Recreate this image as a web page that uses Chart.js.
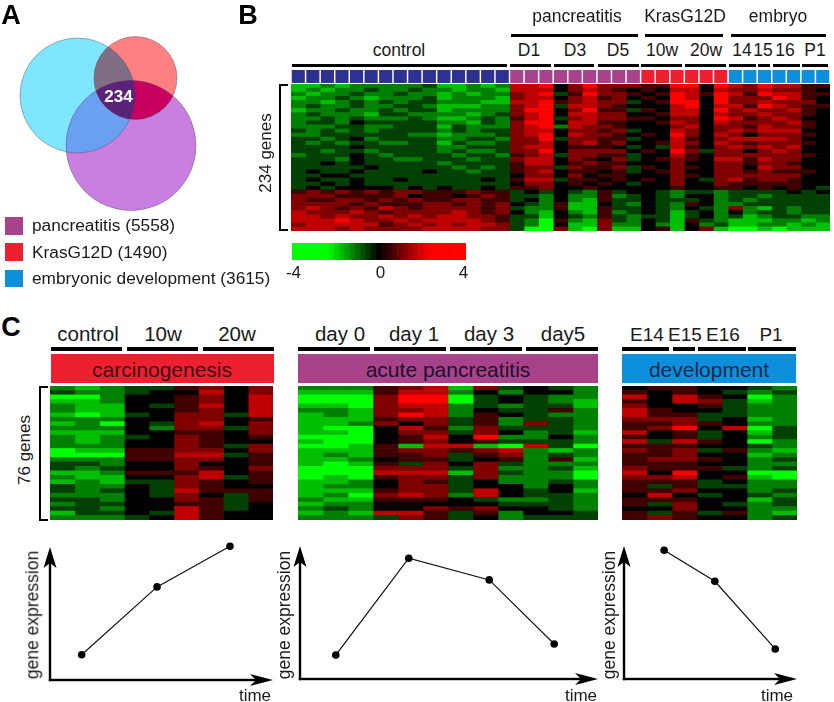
<!DOCTYPE html>
<html>
<head>
<meta charset="utf-8">
<title>Gene expression figure</title>
<script src="https://cdn.jsdelivr.net/npm/chart.js@4"></script>
<style>
  html, body { margin: 0; background: #fff; }
  #page { position: relative; width: 834px; height: 702px; overflow: hidden; font-family: "Liberation Sans", sans-serif; color: #1a1a1a; }
  #page canvas { position: absolute; }
  .txt { position: absolute; white-space: nowrap; line-height: 1; }
  .rule { position: absolute; background: #000; }
  .bracket { position: absolute; box-sizing: border-box; border: 2px solid #000; border-right: 0; }
  .band { position: absolute; }
</style>
</head>
<body>
<div id="page"></div>
<script>
// venn circles: pancreatitis, KrasG12D, embryonic development
const vennX = [131, 135.5, 77.5];
const vennY = [145.5, 78, 95.5];
const vennR = [65, 41.5, 57.5];
const vennColors = ['#c87fe0', '#ff8080', '#80e5ff'];
// overlap tints, by the circles that make them
const vennOverlaps = [[[1, 2], '#7f6f85'], [[0, 2], '#6aa0f0'], [[0, 1], '#c8005f'], [[0, 1, 2], '#5a2278']];
const legendNames = ['pancreatitis (5558)', 'KrasG12D (1490)', 'embryonic development (3615)'];

const PURPLE = '#a8428a', RED = '#ee2030', BLUE = '#0e8fdb', NAVY = '#2e3192';

// panel B samples per group
const sampleGroupSizes = [15, 9, 6, 7];
const sampleGroupColors = [NAVY, PURPLE, RED, BLUE];
const colorbarSteps = [-4, -3.75, -3.5, -3.25, -3, -2.75, -2.5, -2.25, -2, -1.75, -1.5, -1.25, -1, -0.75, -0.5, -0.25, 0,
  0.25, 0.5, 0.75, 1, 1.25, 1.5, 1.75, 2, 2.25, 2.5, 2.75, 3, 3.25, 3.5, 3.75, 4];

// heat maps, one string per row band, one digit per sample
// 4 is zero, each step is 0.6, so 0 is -2.4 (full green) and 8 is +2.4 (full red)
const heatB = [
  '11212 22223 11212 778 468 666 558 848 7687755',
  '12122 32232 21221 777 467 654 547 747 6676654',
  '21223 22322 12122 678 358 665 458 758 7587755',
  '12232 12223 12221 677 467 564 548 748 6668754',
  '22123 23233 22211 778 567 663 458 848 6676664',
  '23223 22332 11122 678 377 654 447 847 7587655',
  '12232 23233 12222 688 468 553 547 748 6766754',
  '23222 13322 22123 678 477 664 457 747 6676654',
  '22323 22232 11232 578 367 665 546 648 7567644',
  '23324 33333 22132 688 477 554 457 647 6666754',
  '22233 22333 13222 678 276 654 446 746 6576654',
  '32323 23333 23233 677 466 563 447 646 7677744',
  '22333 33322 12223 678 476 654 548 647 6466654',
  '33234 23333 22332 668 366 553 447 546 7777644',
  '32323 32233 13223 667 467 564 457 647 6566654',
  '33334 33333 22333 677 455 543 437 546 7676744',
  '33233 23333 23223 668 466 664 548 636 6467644',
  '23334 32333 32332 567 366 553 447 546 6666654',
  '33324 33223 33233 677 465 463 456 547 7576644',
  '33434 33333 23333 577 456 554 446 446 6566544',
  '33333 43333 32323 566 365 563 546 546 6476644',
  '34334 33334 33233 567 455 453 456 446 6565554',
  '33443 33333 33333 466 464 554 446 546 6666644',
  '34334 33433 33343 577 355 454 546 436 7566544',
  '33434 33333 33333 466 454 543 446 446 5555544',
  '34344 44343 43343 556 445 444 445 445 5454543',
  '56565 65665 55655 343 432 534 432 332 3333434',
  '66655 55645 54565 332 422 523 432 442 3323333',
  '65566 56565 56655 342 421 533 433 342 3233333',
  '66665 65556 65656 432 511 432 432 542 2333333',
  '67656 57656 66656 322 511 533 432 432 6213233',
  '76667 65666 67656 421 421 523 431 342 4233233',
  '77676 67676 77665 331 432 532 331 342 3123322',
  '77787 66767 77765 320 521 632 431 532 1112212',
  '67777 75676 76776 320 411 622 421 423 1122121',
  '77767 66667 77766 300 610 611 451 461 0010111'
];
const heatCarcinogenesis = [
  '212 335 646', '322 344 746', '002 445 647', '112 445 647', '211 435 747', '211 445 647',
  '101 346 637', '222 446 645', '120 436 746', '222 426 636', '111 445 546', '212 346 545',
  '212 446 544', '222 446 536', '011 556 646', '000 557 735', '222 556 645', '332 446 445',
  '323 446 546', '112 555 745', '211 446 735', '121 336 545', '322 436 544', '323 437 555',
  '222 436 435', '332 446 535', '233 445 534', '332 447 534', '133 437 544', '222 347 544'
];
const heatPancreatitis = [
  '222 567 163 432', '111 577 242 442', '000 688 034 322', '000 688 034 321', '110 677 232 331',
  '221 667 243 352', '121 687 254 322', '111 566 352 332', '112 646 352 632', '100 475 263 332',
  '110 466 364 231', '000 457 482 242', '100 456 453 332', '001 517 710 730', '111 566 567 212',
  '121 556 356 232', '112 455 345 251', '101 536 463 222', '000 666 362 231', '000 777 163 220',
  '010 566 362 220', '112 465 342 232', '122 466 344 242', '111 566 374 341', '120 676 274 332',
  '211 555 432 232', '122 444 443 332', '232 446 564 432', '121 775 352 443', '222 365 342 333'
];
const heatDevelopment = [
  '45 5 44 32', '54 5 43 23', '74 7 54 02', '54 7 63 12', '64 4 53 22', '75 4 43 22',
  '75 5 33 22', '66 6 34 12', '55 6 54 22', '56 8 47 03', '74 5 34 13', '54 5 34 23',
  '73 7 54 02', '55 5 44 32', '65 6 35 21', '55 6 44 12', '56 6 54 23', '55 5 44 22',
  '65 5 53 23', '74 8 44 00', '66 7 45 10', '55 5 34 22', '53 5 33 22', '55 6 44 23',
  '47 4 34 32', '55 5 44 13', '53 6 43 23', '44 6 44 22', '53 5 35 21', '56 5 44 23'
];

// trend sketches, percent of the time and expression axes
const trendTime = [[14.2, 48, 80.7], [12, 36.5, 63.5, 85.3], [23.2, 52.5, 87.4]];
const trendLevel = [[19, 70, 100.5], [18, 90.8, 74.5, 26.3], [96.8, 73.5, 22.6]];

const page = document.getElementById('page');

function label(text, x, y, size, opts) {
  opts = opts || {};
  const d = document.createElement('div');
  d.className = 'txt';
  d.textContent = text;
  d.style.left = x + 'px';
  d.style.top = y + 'px';
  d.style.fontSize = size + 'px';
  if (opts.bold) d.style.fontWeight = 'bold';
  if (opts.color) d.style.color = opts.color;
  const anchor = opts.left ? 'translate(0,-50%)' : 'translate(-50%,-50%)';
  d.style.transform = anchor + (opts.rot ? ' rotate(' + opts.rot + 'deg)' : '');
  page.appendChild(d);
}

function rule(x1, x2, y, h) {
  const d = document.createElement('div');
  d.className = 'rule';
  d.style.cssText = 'left:' + x1 + 'px;width:' + (x2 - x1) + 'px;top:' + y + 'px;height:' + h + 'px';
  page.appendChild(d);
}

function box(cls, x, y, w, h, color) {
  const d = document.createElement('div');
  d.className = cls;
  d.style.cssText = 'left:' + x + 'px;top:' + y + 'px;width:' + w + 'px;height:' + h + 'px' + (color ? ';background:' + color : '');
  page.appendChild(d);
}

function makeCanvas(x, y, w, h) {
  const c = document.createElement('canvas');
  c.width = w;
  c.height = h;
  c.style.left = x + 'px';
  c.style.top = y + 'px';
  page.appendChild(c);
  return c;
}

// same ramp as the colour bar, saturates at +-2.4
function heatColor(v) {
  const a = Math.round(Math.min(1, Math.abs(v) / 2.4) * 255);
  return v < 0 ? 'rgb(0,' + a + ',0)' : 'rgb(' + a + ',0,0)';
}

const baseOptions = {
  responsive: false,
  animation: false,
  events: [],
  layout: { padding: 0, autoPadding: false },
  plugins: { legend: { display: false }, tooltip: { enabled: false } }
};

function heatmap(rows, x, y, w, h) {
  const cells = rows.map(r => r.replace(/ /g, '').split('').map(d => (Number(d) - 4) * 0.6));
  const datasets = cells[0].map((_, col) => ({
    data: cells.map(() => 1),
    backgroundColor: cells.map(r => heatColor(r[col])),
    borderWidth: 0,
    barPercentage: 1,
    categoryPercentage: 1
  }));
  new Chart(makeCanvas(x, y, w, h), {
    type: 'bar',
    data: { labels: rows.map((_, i) => i), datasets: datasets },
    options: Object.assign({}, baseOptions, {
      indexAxis: 'y',
      scales: {
        x: { display: false, stacked: true, min: 0, max: cells[0].length },
        y: { display: false, stacked: true }
      }
    })
  });
}

// paints the overlaps on top of the circles, clipped to the circles the chart placed
const overlapPlugin = {
  id: 'overlaps',
  afterDatasetsDraw(chart) {
    const c = chart.ctx;
    const circle = i => {
      const el = chart.getDatasetMeta(i).data[0];
      c.beginPath();
      c.arc(el.x, el.y, vennR[i], 0, Math.PI * 2);
    };
    vennOverlaps.forEach(o => {
      c.save();
      o[0].forEach(i => { circle(i); c.clip(); });
      c.fillStyle = o[1];
      c.fillRect(0, 0, chart.width, chart.height);
      c.restore();
    });
    c.save();
    c.strokeStyle = 'rgba(70,60,90,0.55)';
    c.lineWidth = 0.7;
    vennR.forEach((_, i) => { circle(i); c.stroke(); });
    c.restore();
  }
};

new Chart(makeCanvas(0, 0, 210, 225), {
  type: 'bubble',
  data: {
    datasets: vennX.map((vx, i) => ({
      data: [{ x: vx, y: vennY[i], r: vennR[i] }],
      backgroundColor: vennColors[i],
      borderWidth: 0,
      clip: false
    }))
  },
  options: Object.assign({}, baseOptions, {
    scales: {
      x: { display: false, min: 0, max: 210 },
      y: { display: false, min: 0, max: 225, reverse: true }
    }
  }),
  plugins: [overlapPlugin]
});
label('234', 118.5, 95.5, 17, { bold: true, color: '#fff' });

// legend of panel A
[[5, 217, PURPLE, 226], [5, 243, RED, 252.5], [5, 269.5, BLUE, 278.5]].forEach((p, i) => {
  box('band', p[0], p[1], 18, 17.5, p[2]);
  label(legendNames[i], 32, p[3], 17.3, { left: true });
});

label('A', 11, 15, 27, { bold: true, color: '#000' });
label('B', 248, 15, 27, { bold: true, color: '#000' });
label('C', 11, 327, 27, { bold: true, color: '#000' });

// panel B header
const sampleColors = [];
sampleGroupSizes.forEach((n, g) => { for (let i = 0; i < n; i++) sampleColors.push(sampleGroupColors[g]); });
new Chart(makeCanvas(290.5, 70, 539, 13.5), {
  type: 'bar',
  data: {
    labels: sampleColors.map((_, i) => i),
    datasets: [{ data: sampleColors.map(() => 1), backgroundColor: sampleColors, borderWidth: 0, barPercentage: 0.9, categoryPercentage: 1 }]
  },
  options: Object.assign({}, baseOptions, {
    scales: { x: { display: false }, y: { display: false, min: 0, max: 1 } }
  })
});

['pancreatitis', 'KrasG12D', 'embryo'].forEach((t, i) => label(t, [577, 685, 778][i], 17, 17.5));
[[511, 638], [645, 723], [731, 826]].forEach(p => rule(p[0], p[1], 33.5, 3.5));
['control', 'D1', 'D3', 'D5', '10w', '20w', '14', '15', '16', 'P1'].forEach((t, i) =>
  label(t, [399, 529, 575, 618, 662, 706, 742, 763, 785, 815][i], 50.5, 17.5));
[[292, 507], [510, 551], [554, 594], [598, 639], [641, 682], [685, 726], [729, 755.5], [758, 770], [773, 800], [802, 828]]
  .forEach(p => rule(p[0], p[1], 63.5, 3.5));

heatmap(heatB, 290.5, 84, 539, 147);
box('bracket', 279, 84, 9, 147);
label('234 genes', 265, 153, 17, { rot: -90 });

// colour bar
new Chart(makeCanvas(291.5, 243, 174, 17), {
  type: 'bar',
  data: {
    labels: colorbarSteps,
    datasets: [{ data: colorbarSteps.map(() => 1), backgroundColor: colorbarSteps.map(heatColor), borderWidth: 0, barPercentage: 1, categoryPercentage: 1 }]
  },
  options: Object.assign({}, baseOptions, {
    scales: { x: { display: false }, y: { display: false, min: 0, max: 1 } }
  })
});
label('-4', 293.5, 272, 17);
label('0', 380.5, 272, 17);
label('4', 463.5, 272, 17);

// panel C headers
['control', '10w', '20w'].forEach((t, i) => label(t, [88, 163, 237][i], 334, 20.5));
[[51, 122], [127, 198], [203, 274]].forEach(p => rule(p[0], p[1], 347, 4));
['day 0', 'day 1', 'day 3', 'day5'].forEach((t, i) => label(t, [340, 414, 489, 563][i], 334, 20.5));
[[298, 370], [374, 446], [450, 522], [526, 598]].forEach(p => rule(p[0], p[1], 347, 4));
['E14', 'E15', 'E16', 'P1'].forEach((t, i) => label(t, [647, 685, 723, 771][i], 334, 19));
[[622, 669], [673, 695], [698, 746], [748, 796]].forEach(p => rule(p[0], p[1], 347, 4));

box('band', 51, 354, 223, 29, RED);
box('band', 298, 354, 300, 29, PURPLE);
box('band', 622, 354, 174, 29, BLUE);
label('carcinogenesis', 162, 369, 21, { color: '#3a0a1a' });
label('acute pancreatitis', 448, 369, 21, { color: '#1e0e2c' });
label('development', 709, 369, 21, { color: '#0a2a50' });

heatmap(heatCarcinogenesis, 50, 386, 223, 134.5);
heatmap(heatPancreatitis, 298, 386, 300.5, 134.5);
heatmap(heatDevelopment, 622, 386, 175, 134.5);
box('bracket', 39, 386, 9, 134.5);
label('76 genes', 24, 450, 17, { rot: -90 });

// arrowed axes for the sketches
const arrowAxes = {
  id: 'arrowAxes',
  afterDraw(chart) {
    const c = chart.ctx, a = chart.chartArea;
    c.save();
    c.fillStyle = '#000';
    c.fillRect(a.left - 1.2, a.top + 15, 2.4, a.bottom - a.top - 15 + 1.2);
    c.fillRect(a.left - 1.2, a.bottom - 1.2, a.right - a.left - 15, 2.4);
    c.beginPath();
    c.moveTo(a.left, a.top);
    c.lineTo(a.left + 6.5, a.top + 21);
    c.lineTo(a.left, a.top + 16);
    c.lineTo(a.left - 6.5, a.top + 21);
    c.closePath();
    c.moveTo(a.right, a.bottom);
    c.lineTo(a.right - 23, a.bottom + 6);
    c.lineTo(a.right - 17, a.bottom);
    c.lineTo(a.right - 23, a.bottom - 6);
    c.closePath();
    c.fill();
    c.restore();
  }
};

function trend(time, level, left, top, right, bottom) {
  const pad = 12;
  new Chart(makeCanvas(left - pad, top - pad, right - left + 2 * pad, bottom - top + 2 * pad), {
    type: 'scatter',
    data: {
      datasets: [{
        data: time.map((t, i) => ({ x: t, y: level[i] })),
        showLine: true,
        borderColor: '#111',
        borderWidth: 1.2,
        pointBackgroundColor: '#000',
        pointBorderWidth: 0,
        pointRadius: 3.8,
        clip: false
      }]
    },
    options: Object.assign({}, baseOptions, {
      layout: { padding: pad, autoPadding: false },
      scales: { x: { display: false, min: 0, max: 100 }, y: { display: false, min: 0, max: 100 } }
    }),
    plugins: [arrowAxes]
  });
}

trend(trendTime[0], trendLevel[0], 49.5, 546.5, 273, 680);
trend(trendTime[1], trendLevel[1], 299.5, 546, 598, 679.5);
trend(trendTime[2], trendLevel[2], 624, 546, 797, 679.5);

[33, 285, 610].forEach(x => label('gene expression', x, 615, 17.5, { rot: -90 }));
[255, 581, 777].forEach(x => label('time', x, 695, 17));
</script>
</body>
</html>
